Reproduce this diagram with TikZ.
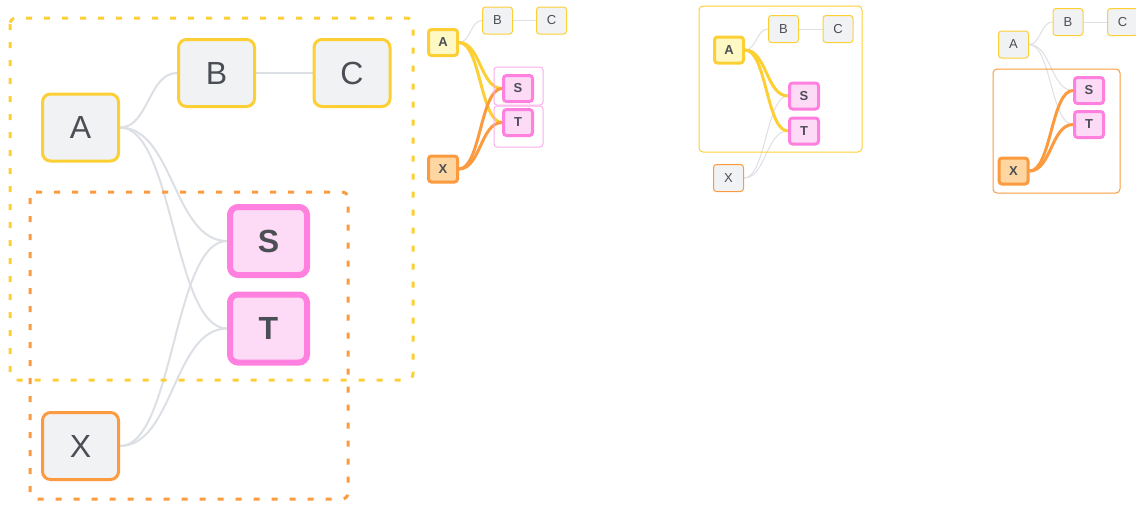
\documentclass[tikz,border=0pt]{standalone}
\usepackage{fontspec}
\setmainfont{Liberation Sans}
\usetikzlibrary{backgrounds,calc}
\definecolor{ylw}{HTML}{FCD034}
\definecolor{ylwfill}{HTML}{FEF8C4}
\definecolor{org}{HTML}{FB9A3E}
\definecolor{orgfill}{HTML}{FED6A2}
\definecolor{pnk}{HTML}{FF80DF}
\definecolor{pnkfill}{HTML}{FDDAF6}
\definecolor{pnkline}{HTML}{FBAEEA}
\definecolor{gryfill}{HTML}{F1F2F4}
\definecolor{lnk}{HTML}{DCDFE4}
\definecolor{txt}{HTML}{4B4E55}

\tikzset{
    bigbox/.style={draw, rounded corners=8pt, inner sep=0pt, line width=3pt,
        minimum width=76pt, minimum height=67pt, fill=gryfill, text=txt,
        font=\fontsize{32}{32}\selectfont},
    bigsel/.style={bigbox, draw=pnk, fill=pnkfill, line width=6pt,
        minimum width=77pt, minimum height=68pt, font=\fontsize{32}{32}\selectfont\bfseries},
    smallbox/.style={draw, rounded corners=3pt, inner sep=0pt, line width=1pt,
        minimum width=30pt, minimum height=27pt, fill=gryfill, text=txt,
        font=\fontsize{13}{13}\selectfont},
    smallsel/.style={smallbox, line width=3pt, minimum width=29pt, minimum height=26pt,
        font=\fontsize{13}{13}\selectfont\bfseries},
    curve/.style={to path={let \p1=(\tikztostart), \p2=(\tikztotarget),
        \n1={(\x2-\x1)/2} in .. controls +(\n1,0) and +(-\n1,0) .. (\tikztotarget)}},
    biglink/.style={curve, draw=lnk, line width=2pt},
    smalllink/.style={curve, draw=lnk, line width=1pt},
    ylwlink/.style={curve, draw=ylw, line width=3pt},
    orglink/.style={curve, draw=org, line width=3pt},
    ylwgroup/.style={draw=ylw, line width=3pt, dash pattern=on 6pt off 12pt, rounded corners=6pt},
    orggroup/.style={draw=org, line width=3pt, dash pattern=on 6pt off 12pt, rounded corners=6pt},
}

\begin{document}
\begin{tikzpicture}[x=1pt,y=-1pt]
    \useasboundingbox (0,0) rectangle (1136,504);

    % large view
    \draw[ylwgroup] (10,18) rectangle (413,380);
    \draw[orggroup] (30,192) rectangle (348,499);

    \node[bigbox, draw=ylw] (A) at (80.5,127.5) {A};
    \node[bigbox, draw=ylw] (B) at (216.5,73) {B};
    \node[bigbox, draw=ylw] (C) at (352,73) {C};
    \node[bigsel] (S) at (268.5,241) {S};
    \node[bigsel] (T) at (268.5,328.5) {T};
    \node[bigbox, draw=org] (X) at (80.5,446) {X};

    \begin{scope}[on background layer]
        \draw[biglink] (A.east) to (B.west);
        \draw[biglink] (B.east) -- (C.west);
        \draw[biglink] (A.east) to (S.west);
        \draw[biglink] (A.east) to (T.west);
        \draw[biglink] (X.east) to (S.west);
        \draw[biglink] (X.east) to (T.west);
    \end{scope}

    % both groups
    \draw[draw=pnkline, line width=1pt, rounded corners=3pt] (494,67) rectangle (543,105);
    \draw[draw=pnkline, line width=1pt, rounded corners=3pt] (494,106) rectangle (543,147);

    \node[smallsel, draw=ylw, fill=ylwfill] (a1) at (443,42.5) {A};
    \node[smallbox, draw=ylw] (b1) at (497.5,20.5) {B};
    \node[smallbox, draw=ylw] (c1) at (551.5,20.5) {C};
    \node[smallsel, draw=pnk, fill=pnkfill] (s1) at (518,88.5) {S};
    \node[smallsel, draw=pnk, fill=pnkfill] (t1) at (518,122.5) {T};
    \node[smallsel, draw=org, fill=orgfill] (x1) at (443,169) {X};

    \begin{scope}[on background layer]
        \draw[smalllink] (a1.east) to (b1.west);
        \draw[smalllink] (b1.east) -- (c1.west);
        \draw[ylwlink] (a1.east) to (s1.west);
        \draw[ylwlink] (a1.east) to (t1.west);
        \draw[orglink] (x1.east) to (s1.west);
        \draw[orglink] (x1.east) to (t1.west);
    \end{scope}

    % yellow group
    \draw[draw=ylw, line width=1pt, rounded corners=4pt] (699,6) rectangle (862,152);

    \node[smallsel, draw=ylw, fill=ylwfill] (a2) at (729,50) {A};
    \node[smallbox, draw=ylw] (b2) at (783.5,29) {B};
    \node[smallbox, draw=ylw] (c2) at (838,29) {C};
    \node[smallsel, draw=pnk, fill=pnkfill] (s2) at (804,96) {S};
    \node[smallsel, draw=pnk, fill=pnkfill] (t2) at (804,131) {T};
    \node[smallbox, draw=org] (x2) at (728.5,178) {X};

    \begin{scope}[on background layer]
        \draw[smalllink] (a2.east) to (b2.west);
        \draw[smalllink] (b2.east) -- (c2.west);
        \draw[smalllink] (x2.east) to (s2.west);
        \draw[smalllink] (x2.east) to (t2.west);
        \draw[ylwlink] (a2.east) to (s2.west);
        \draw[ylwlink] (a2.east) to (t2.west);
    \end{scope}

    % orange group
    \draw[draw=org, line width=1pt, rounded corners=4pt] (993,69) rectangle (1120,193);

    \node[smallbox, draw=ylw] (a3) at (1013.5,44.5) {A};
    \node[smallbox, draw=ylw] (b3) at (1068,22) {B};
    \node[smallbox, draw=ylw] (c3) at (1122.5,22) {C};
    \node[smallsel, draw=pnk, fill=pnkfill] (s3) at (1089,90.5) {S};
    \node[smallsel, draw=pnk, fill=pnkfill] (t3) at (1089,124.5) {T};
    \node[smallsel, draw=org, fill=orgfill] (x3) at (1013.5,171) {X};

    \begin{scope}[on background layer]
        \draw[smalllink] (a3.east) to (b3.west);
        \draw[smalllink] (b3.east) -- (c3.west);
        \draw[smalllink] (a3.east) to (s3.west);
        \draw[smalllink] (a3.east) to (t3.west);
        \draw[orglink] (x3.east) to (s3.west);
        \draw[orglink] (x3.east) to (t3.west);
    \end{scope}
\end{tikzpicture}
\end{document}
